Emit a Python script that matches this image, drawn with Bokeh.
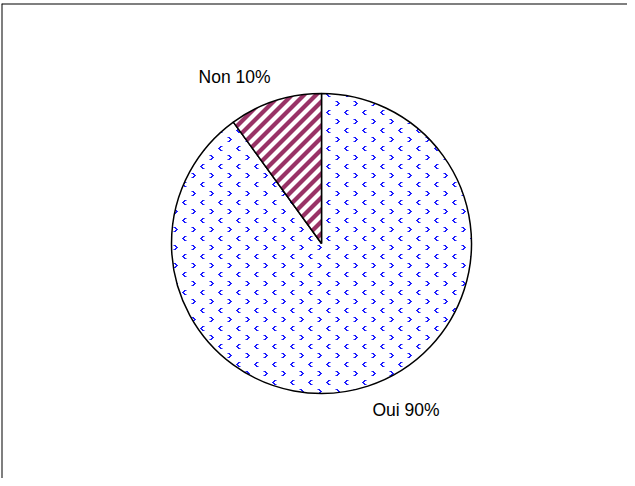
import math, zlib, struct, base64
from bokeh.plotting import figure
from bokeh.models import ColumnDataSource, Range1d, Span, ImageURLTexture
from bokeh.embed import file_html
from bokeh.resources import INLINE
from bokeh.core.properties import value

# ---- data ----
categories = ["Oui", "Non"]
values = [90, 10]
labels = ["Oui 90%", "Non 10%"]

# ---- pattern textures (small PNG tiles) ----
def png_data_url(pixels, w, h):
    raw = b""
    for y in range(h):
        raw += b"\x00" + b"".join(bytes(pixels[y][x]) for x in range(w))
    def chunk(tag, data):
        c = tag + data
        return struct.pack(">I", len(data)) + c + struct.pack(">I", zlib.crc32(c) & 0xffffffff)
    png = b"\x89PNG\r\n\x1a\n" + chunk(b"IHDR", struct.pack(">IIBBBBB", w, h, 8, 6, 0, 0, 0)) \
        + chunk(b"IDAT", zlib.compress(raw)) + chunk(b"IEND", b"")
    return "data:image/png;base64," + base64.b64encode(png).decode()

def blend(c, a):
    return tuple(int(255 - (255 - ci) * a) for ci in c) + (255,)

BLUE = (30, 30, 255)
WHITE = (255, 255, 255, 255)
tw, th = 18, 18
blue_tile = [[WHITE for _ in range(tw)] for _ in range(th)]
lt_shape = ["..xxo",
            ".xx..",
            "xx...",
            ".xx..",
            "..xxo"]
gt_shape = ["oxx..",
            "..xx.",
            "...xx",
            "..xx.",
            "oxx.."]
def stamp(shape, ox, oy):
    for dy, line in enumerate(shape):
        for dx, ch in enumerate(line):
            if ch == "x":
                blue_tile[oy + dy][ox + dx] = blend(BLUE, 1.0)
            elif ch == "o":
                blue_tile[oy + dy][ox + dx] = blend(BLUE, 0.5)
stamp(lt_shape, 2, 2)
stamp(gt_shape, 11, 11)
blue_url = png_data_url(blue_tile, tw, th)

MAROON = (153, 51, 102)
sw = 12
stripe_tile = []
for y in range(sw):
    row = []
    for x in range(sw):
        t = (x + y) % sw
        if t in (0, 1, 2, 3, 4):
            row.append(blend(MAROON, 1.0))
        elif t in (5, 11):
            row.append(blend(MAROON, 0.5))
        else:
            row.append(WHITE)
    stripe_tile.append(row)
stripe_url = png_data_url(stripe_tile, sw, sw)

# ---- geometry from data ----
total = float(sum(values))
starts, ends, mids = [], [], []
cum = 0.0
for v in values:
    a0 = math.pi / 2 - 2 * math.pi * cum / total
    cum += v
    a1 = math.pi / 2 - 2 * math.pi * cum / total
    starts.append(a0)
    ends.append(a1)
    mids.append((a0 + a1) / 2)

R = 150
LR = 165
lx = [LR * math.cos(m) for m in mids]
ly = [LR * math.sin(m) for m in mids]
aligns = ["right" if math.cos(m) < 0 else "left" for m in mids]
baselines = ["bottom" if math.sin(m) > 0 else "top" for m in mids]

src = ColumnDataSource(dict(cat=categories, val=values, start=starts, end=ends,
                            lx=lx, ly=ly, label=labels, align=aligns, base=baselines))

W, H = 627, 478
ML, MT = 1, 3
p = figure(width=W, height=H, output_backend="svg", toolbar_location=None,
           x_range=Range1d(-320, W - ML - 320), y_range=Range1d(-(H - MT - 240), 240),
           min_border_left=ML, min_border_top=MT, min_border_right=0, min_border_bottom=0)
p.axis.visible = False
p.grid.visible = False
p.outline_line_color = None
p.background_fill_color = "white"
p.border_fill_color = "white"

oui = ColumnDataSource({k: [v[0]] for k, v in src.data.items()})
non = ColumnDataSource({k: [v[1]] for k, v in src.data.items()})
p.wedge(x=0, y=0, radius=R, start_angle="start", end_angle="end", direction="clock",
        source=oui, fill_color="white", line_color="black", line_width=1.5,
        hatch_pattern=value("chev"),
        hatch_extra={"chev": ImageURLTexture(url=blue_url, repetition="repeat")})
p.wedge(x=0, y=0, radius=R, start_angle="start", end_angle="end", direction="clock",
        source=non, fill_color="white", line_color="black", line_width=1.5,
        hatch_pattern=value("stripe"),
        hatch_extra={"stripe": ImageURLTexture(url=stripe_url, repetition="repeat")})

p.text(x="lx", y="ly", text="label", source=src, text_align="align",
       text_baseline="base", text_font=value("Liberation Sans"),
       text_font_size="17.5px", text_color="black")

# chart area border (left and top visible)
p.add_layout(Span(location=-320, dimension="height", line_color="black", line_width=2))
p.add_layout(Span(location=240, dimension="width", line_color="black", line_width=2))

open("out.html", "w").write(file_html(p, INLINE))
